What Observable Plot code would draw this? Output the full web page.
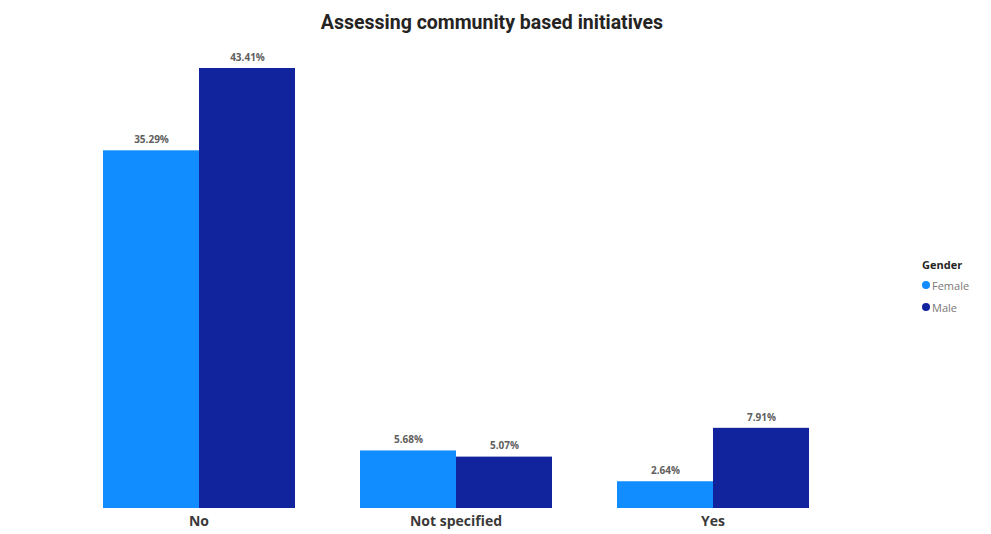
<!DOCTYPE html>
<html>
<head>
<meta charset="utf-8">
<script src="https://cdn.jsdelivr.net/npm/d3@7"></script>
<script src="https://cdn.jsdelivr.net/npm/@observablehq/plot@0.6"></script>
<style>
  html, body { margin: 0; padding: 0; background: #fff; }
  #wrap { position: relative; width: 991px; height: 534px; overflow: hidden; }
  #title { position: absolute; left: 0; width: 984px; top: 11px; text-align: center;
    font-family: Roboto, "DejaVu Sans", sans-serif; font-weight: bold; font-size: 19.5px; color: #252423; }
  #legend { position: absolute; left: 922px; top: 257px; font-family: "Open Sans", "DejaVu Sans", sans-serif; font-size: 11px; color: #7a7876; }
  #legend .hd { font-weight: bold; color: #252423; margin-bottom: 2px; }
  #legend .it { display: flex; align-items: center; height: 22px; }
  #legend .dot { width: 8px; height: 8px; border-radius: 50%; margin-right: 2px; }
  #chart { position: absolute; left: 0; top: 0; }
</style>
</head>
<body>
<div id="wrap">
  <div id="chart"></div>
  <div id="title">Assessing community based initiatives</div>
  <div id="legend"></div>
</div>
<script>
const answers = ["No", "Not specified", "Yes"];
const genders = ["Female", "Male"];
const femaleValues = [35.29, 5.68, 2.64];
const maleValues = [43.41, 5.07, 7.91];
const colors = ["#118DFF", "#12239E"];

const data = [];
answers.forEach((a, i) => {
  data.push({answer: a, gender: "Female", value: femaleValues[i]});
  data.push({answer: a, gender: "Male", value: maleValues[i]});
});

const chart = Plot.plot({
  width: 991,
  height: 534,
  marginLeft: 38,
  marginRight: 117,
  marginTop: 68,
  marginBottom: 26,
  style: {fontFamily: "Open Sans, DejaVu Sans, sans-serif", background: "white"},
  fx: {domain: answers, paddingInner: 0.248, paddingOuter: 0.248, axis: "bottom", label: null, tickSize: 0, tickPadding: 8},
  x: {domain: genders, padding: 0, axis: null},
  y: {domain: [0, Math.max(...maleValues)], axis: null},
  color: {domain: genders, range: colors},
  marks: [
    Plot.barY(data, {fx: "answer", x: "gender", y: "value", fill: "gender", inset: 0}),
    Plot.text(data, {fx: "answer", x: "gender", y: "value", text: d => d.value.toFixed(2) + "%", dy: -11,
      fill: "#605E5C", fontSize: 10, fontWeight: "bold"})
  ]
});
chart.querySelectorAll("[aria-label='fx-axis tick label'] text, [aria-label='fx-axis'] text").forEach(t => {
  t.setAttribute("font-weight", "bold");
  t.setAttribute("font-size", "14");
  t.setAttribute("fill", "#3b3a39");
});
document.getElementById("chart").appendChild(chart);

const legend = document.getElementById("legend");
const hd = document.createElement("div"); hd.className = "hd"; hd.textContent = "Gender"; legend.appendChild(hd);
genders.forEach((g, i) => {
  const it = document.createElement("div"); it.className = "it";
  const dot = document.createElement("span"); dot.className = "dot"; dot.style.background = colors[i];
  const lb = document.createElement("span"); lb.textContent = g;
  it.appendChild(dot); it.appendChild(lb); legend.appendChild(it);
});
</script>
</body>
</html>
